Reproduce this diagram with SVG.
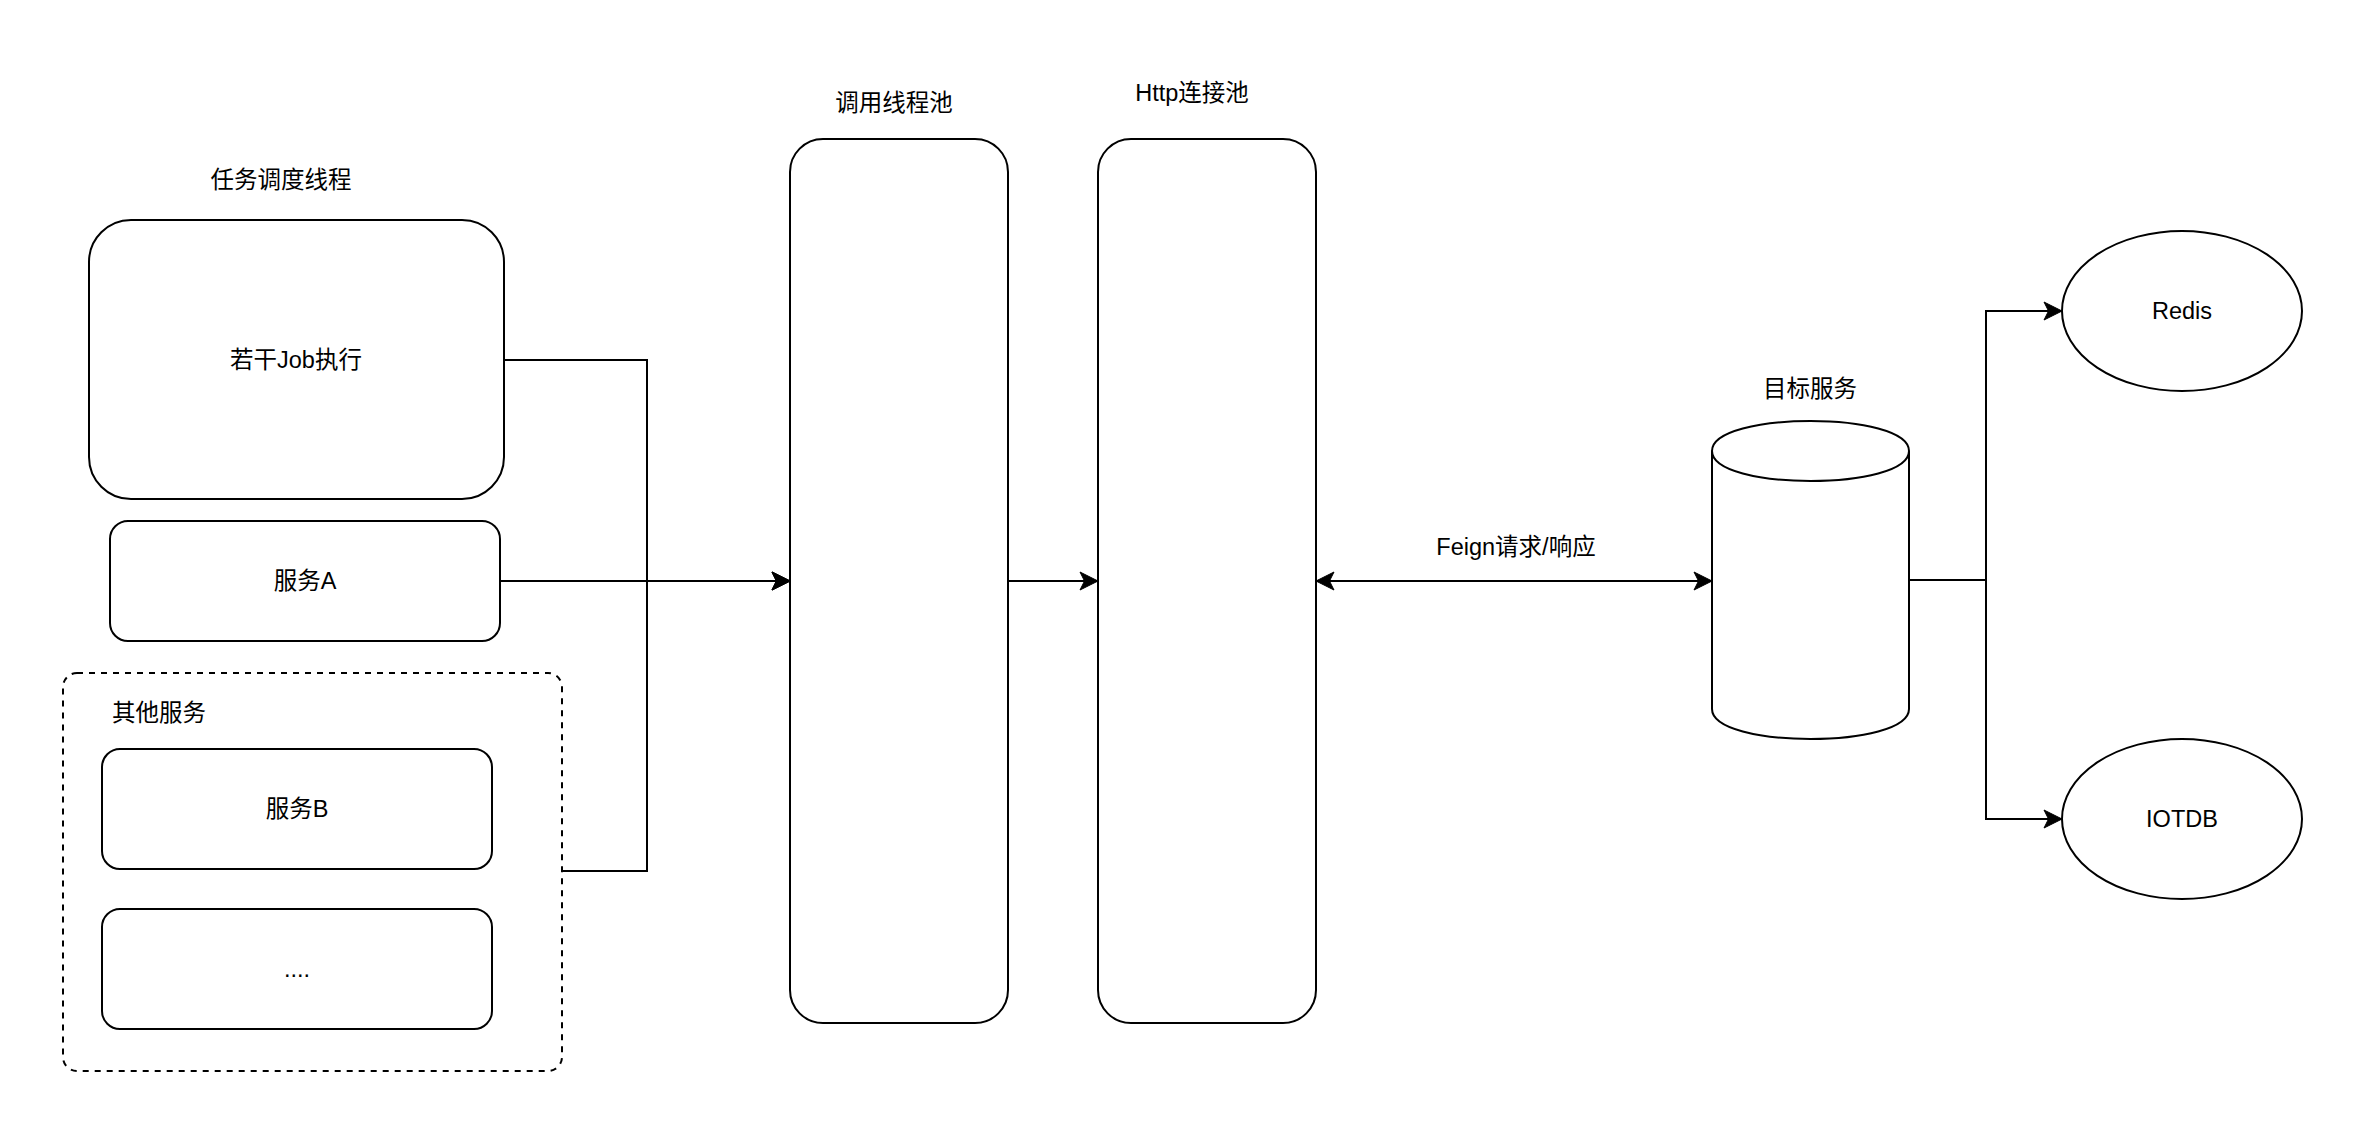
<svg xmlns="http://www.w3.org/2000/svg" width="2360" height="1134" viewBox="0 0 2360 1134">
<style>
.s{fill:#fff;stroke:#000;stroke-width:2}
.d{fill:#fff;stroke:#000;stroke-width:2;stroke-dasharray:6 6}
.e{fill:none;stroke:#000;stroke-width:2}
text{font-family:"Liberation Sans","Noto Sans CJK SC",sans-serif;font-size:23.5px;fill:#000}
.c{text-anchor:middle;dominant-baseline:central}
.l{text-anchor:start;dominant-baseline:central}
</style>
<defs>
<marker id="a" markerUnits="userSpaceOnUse" markerWidth="20" markerHeight="20" viewBox="0 0 20 20" refX="19" refY="10" orient="auto-start-reverse">
<path d="M19,10 L1,1 L5.5,10 L1,19 Z" fill="#000" stroke="#000" stroke-width="1"/>
</marker>
</defs>
<rect width="2360" height="1134" fill="#fff"/>
<g id="title-scheduler"><text class="c" x="281" y="180">任务调度线程</text></g>
<g id="job"><rect class="s" x="89" y="220" width="415" height="279" rx="42" ry="42"/><text class="c" x="296" y="360">若干Job执行</text></g>
<g id="serviceA"><rect class="s" x="110" y="521" width="390" height="120" rx="18" ry="18"/><text class="c" x="305" y="581">服务A</text></g>
<g id="others"><rect class="d" x="63" y="673" width="499" height="398" rx="14" ry="14"/><text class="l" x="112" y="713">其他服务</text></g>
<g id="serviceB"><rect class="s" x="102" y="749" width="390" height="120" rx="18" ry="18"/><text class="c" x="297" y="809">服务B</text></g>
<g id="serviceMore"><rect class="s" x="102" y="909" width="390" height="120" rx="18" ry="18"/><text class="c" x="297" y="969">....</text></g>
<g id="callPool"><rect class="s" x="790" y="139" width="218" height="884" rx="33" ry="33"/><text class="c" x="894" y="103">调用线程池</text></g>
<g id="httpPool"><rect class="s" x="1098" y="139" width="218" height="884" rx="33" ry="33"/><text class="c" x="1192" y="93">Http连接池</text></g>
<g id="target"><path class="s" d="M1712,451 C1712,411 1909,411 1909,451 V709 C1909,749 1712,749 1712,709 Z"/><path class="e" d="M1712,451 C1712,491 1909,491 1909,451"/><text class="c" x="1810" y="389">目标服务</text></g>
<g id="redis"><ellipse class="s" cx="2182" cy="311" rx="120" ry="80"/><text class="c" x="2182" y="311">Redis</text></g>
<g id="iotdb"><ellipse class="s" cx="2182" cy="819" rx="120" ry="80"/><text class="c" x="2182" y="819">IOTDB</text></g>
<g id="connectors">
<path class="e" d="M504,360 H647 V581 H790" marker-end="url(#a)"/>
<path class="e" d="M500,581 H790" marker-end="url(#a)"/>
<path class="e" d="M562,871 H647 V581 H790" marker-end="url(#a)"/>
<path class="e" d="M1008,581 H1098" marker-end="url(#a)"/>
<path class="e" d="M1316,581 H1712" marker-start="url(#a)" marker-end="url(#a)"/>
<path class="e" d="M1909,580 H1986 V311 H2062" marker-end="url(#a)"/>
<path class="e" d="M1909,580 H1986 V819 H2062" marker-end="url(#a)"/>
<text class="c" x="1516" y="547">Feign请求/响应</text>
</g>
</svg>
